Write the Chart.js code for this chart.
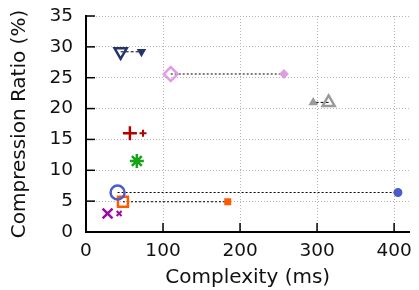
<!DOCTYPE html>
<html>
<head>
<meta charset="utf-8">
<script src="https://cdn.jsdelivr.net/npm/chart.js@4"></script>
<style>
  html, body { margin: 0; padding: 0; background: #fff; }
  #wrap { width: 419px; height: 290px; }
</style>
</head>
<body>
<div id="wrap"><canvas id="chart"></canvas></div>
<script>
// each method: [big hollow marker, small filled marker]
const methods = ['navy', 'pink', 'gray', 'red', 'green', 'blue', 'orange', 'purple'];
const complexity = [[45, 72], [110, 257], [315, 295], [57, 74], [66, 66], [41, 405], [48, 184], [28, 43]];
const ratio = [[29.2, 29.2], [25.6, 25.6], [21.0, 21.0], [16.0, 16.0], [11.5, 11.5], [6.4, 6.4], [4.9, 4.9], [3.0, 3.0]];
const colors = ['#23356b', '#e09ee0', '#9a9a9a', '#b30000', '#17a317', '#4c5ccc', '#ff5a00', '#9c0aa8'];
const styles = ['triangle', 'rectRot', 'triangle', 'cross', 'star', 'circle', 'rect', 'crossRot'];
const rotations = [180, 0, 0, 0, 0, 0, 0, 0];
const lineDash = [[3, 2], [2, 2], [3, 2], [], [], [2, 2], [2, 2], []];
const xTicks = [0, 100, 200, 300, 400];

const datasets = methods.map((m, i) => ({
  label: m,
  data: complexity[i].map((x, j) => ({x: x, y: ratio[i][j]})),
  showLine: lineDash[i].length > 0,
  borderColor: '#000',
  borderWidth: 1,
  borderDash: lineDash[i],
  pointStyle: styles[i],
  rotation: rotations[i],
  pointRadius: [7, 3.5],
  pointBorderWidth: [2.5, 2],
  pointBorderColor: colors[i],
  pointBackgroundColor: ['rgba(255,255,255,0)', colors[i]],
}));

// inward tick marks like the original plot
const innerTicks = {
  id: 'innerTicks',
  afterDraw(chart) {
    const {ctx, chartArea, scales} = chart;
    ctx.save();
    ctx.strokeStyle = '#000';
    ctx.lineWidth = 1.5;
    scales.x.ticks.forEach(t => {
      const px = scales.x.getPixelForValue(t.value);
      ctx.beginPath();
      ctx.moveTo(px, chartArea.bottom);
      ctx.lineTo(px, chartArea.bottom - 9);
      ctx.stroke();
    });
    scales.y.ticks.forEach(t => {
      const py = scales.y.getPixelForValue(t.value);
      ctx.beginPath();
      ctx.moveTo(chartArea.left, py);
      ctx.lineTo(chartArea.left + 9, py);
      ctx.stroke();
    });
    ctx.restore();
  }
};

const tickFont = {family: 'DejaVu Sans', size: 18.5};
const titleFont = {family: 'DejaVu Sans', size: 20};

new Chart(document.getElementById('chart'), {
  type: 'scatter',
  data: {datasets: datasets},
  options: {
    responsive: true,
    maintainAspectRatio: false,
    animation: false,
    layout: {padding: {top: 16, right: 8, left: 0, bottom: 0}},
    plugins: {legend: {display: false}, tooltip: {enabled: false}},
    scales: {
      x: {
        type: 'linear',
        min: 0,
        max: 420,
        afterBuildTicks(scale) {
          scale.ticks = xTicks.map(v => ({value: v}));
        },
        afterFit(scale) { scale.height = 58; scale.paddingRight = 0; },
        ticks: {color: '#111', font: tickFont, padding: 8, maxRotation: 0},
        grid: {color: '#b5b5b5', drawTicks: false, lineWidth: 1},
        border: {color: '#000', width: 2, dash: [1, 2]},
        title: {display: true, text: 'Complexity (ms)', color: '#111', font: titleFont, padding: {top: 0, bottom: 0}}
      },
      y: {
        min: 0,
        max: 35,
        ticks: {stepSize: 5, color: '#111', font: tickFont, padding: 13},
        afterFit(scale) { scale.width = 86; scale.paddingTop = 0; scale.paddingBottom = 0; },
        grid: {color: '#b5b5b5', drawTicks: false, lineWidth: 1},
        border: {color: '#000', width: 2, dash: [1, 2]},
        title: {display: true, text: 'Compression Ratio (%)', color: '#111', font: titleFont, padding: {top: 8, bottom: 0}}
      }
    }
  },
  plugins: [innerTicks]
});
</script>
</body>
</html>
